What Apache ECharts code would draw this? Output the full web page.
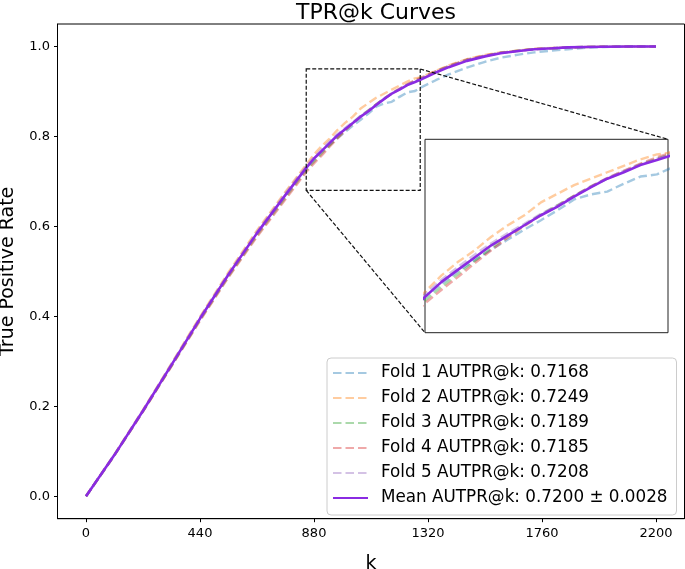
<!DOCTYPE html>
<html>
<head>
<meta charset="utf-8">
<script src="https://cdn.jsdelivr.net/npm/echarts@6.0.0/dist/echarts.min.js"></script>
<style>
html,body{margin:0;padding:0;background:#fff;}
#tpr{width:685px;height:569px;}
</style>
</head>
<body>
<div id="tpr"></div>
<script>
// k grid shared by every curve
var kValues=[0,110,220,330,440,550,660,770,850,880,910,940,970,1000,1030,1060,1090,1120,1150,1180,1210,1240,1270,1290,1350,1400,1470,1540,1600,1670,1730,1800,1860,1930,2000,2100,2200]

var fold1=[0,0.091,0.189,0.291,0.394,0.492,0.584,0.668,0.729,0.748,0.766,0.781,0.796,0.810,0.824,0.837,0.851,0.866,0.873,0.877,0.888,0.898,0.901,0.908,0.925,0.938,0.953,0.966,0.975,0.982,0.987,0.991,0.994,0.997,0.999,1.0,1.0]
var fold2=[0,0.093,0.192,0.295,0.399,0.498,0.591,0.677,0.737,0.760,0.779,0.795,0.814,0.830,0.844,0.862,0.874,0.886,0.895,0.904,0.913,0.922,0.929,0.931,0.946,0.958,0.972,0.981,0.987,0.991,0.995,0.997,0.998,0.999,0.9995,1.0,1.0]
var fold3=[0,0.092,0.189,0.290,0.392,0.489,0.580,0.664,0.725,0.744,0.762,0.780,0.798,0.815,0.830,0.845,0.858,0.871,0.884,0.895,0.905,0.915,0.923,0.928,0.944,0.956,0.970,0.979,0.986,0.991,0.994,0.996,0.998,0.999,0.9995,1.0,1.0]
var fold4=[0,0.091,0.188,0.289,0.390,0.487,0.577,0.660,0.721,0.740,0.758,0.777,0.795,0.813,0.829,0.844,0.857,0.871,0.884,0.896,0.906,0.916,0.925,0.930,0.945,0.957,0.971,0.980,0.986,0.991,0.994,0.996,0.998,0.999,0.9995,1.0,1.0]
var fold5=[0,0.093,0.191,0.294,0.397,0.495,0.588,0.674,0.734,0.754,0.772,0.789,0.805,0.819,0.832,0.846,0.858,0.871,0.884,0.896,0.906,0.915,0.923,0.928,0.944,0.956,0.970,0.979,0.986,0.990,0.994,0.996,0.998,0.999,0.9995,1.0,1.0]
var meanTPR=[0,0.092,0.190,0.292,0.395,0.493,0.585,0.670,0.730,0.751,0.768,0.785,0.802,0.816,0.830,0.844,0.856,0.870,0.883,0.895,0.904,0.914,0.921,0.926,0.942,0.954,0.968,0.978,0.985,0.990,0.994,0.996,0.998,0.999,0.9995,1.0,1.0]

var foldNames=['Fold 1 AUTPR@k: 0.7168','Fold 2 AUTPR@k: 0.7249','Fold 3 AUTPR@k: 0.7189','Fold 4 AUTPR@k: 0.7185','Fold 5 AUTPR@k: 0.7208']
var meanName='Mean AUTPR@k: 0.7200 \u00b1 0.0028'

var xTicks=[0,440,880,1320,1760,2200]
var yTicks=[0,0.2,0.4,0.6,0.8,1.0]
// zoomed region shown in the inset
var zoomK=[850,1290]
var zoomTPR=[0.68,0.95]

var font='DejaVu Sans'
var foldColors=['rgba(31,119,180,0.4)','rgba(255,127,14,0.4)','rgba(44,160,44,0.4)','rgba(214,39,40,0.4)','rgba(148,103,189,0.4)']
var meanColor='#8a2be2'

function pairs(ys){
  return kValues.map(function(k,i){return [k,ys[i]]})
}

var folds=[fold1,fold2,fold3,fold4,fold5]
var series=[]
;[0,1].forEach(function(g){
  folds.forEach(function(f,i){
    series.push({
      name:foldNames[i],type:'line',xAxisIndex:g,yAxisIndex:g,
      data:pairs(f),symbol:'none',color:foldColors[i],
      lineStyle:{color:foldColors[i],width:2.4,type:[8.5,4]},z:2
    })
  })
  series.push({
    name:meanName,type:'line',xAxisIndex:g,yAxisIndex:g,
    data:pairs(meanTPR),symbol:'none',color:meanColor,
    lineStyle:{color:meanColor,width:2.6},z:3
  })
})

var chart=echarts.init(document.getElementById('tpr'),null,{renderer:'canvas'})
var option={
  animation:false,
  backgroundColor:'#fff',
  textStyle:{fontFamily:font},
  title:{
    text:'TPR@k Curves',left:371,top:-3,textAlign:'center',
    textStyle:{fontFamily:font,fontSize:22,fontWeight:'normal',color:'#000'}
  },
  legend:{
    orient:'vertical',left:327,top:358,
    data:foldNames.concat([meanName]),
    itemWidth:35,itemHeight:14,itemGap:7,
    padding:[6,9,8,5],
    itemStyle:{opacity:0},
    backgroundColor:'rgba(255,255,255,0.8)',
    borderColor:'#cccccc',borderWidth:1,borderRadius:4,
    textStyle:{fontFamily:font,fontSize:16.8,color:'#000',lineHeight:18,padding:[0,0,0,8]}
  },
  grid:[
    {left:57.5,right:0.5,top:24,bottom:50.3,show:true,borderColor:'#000',borderWidth:1,outerBoundsMode:'none'},
    {left:425,top:139.3,width:243,height:193.4,show:true,borderColor:'#222',borderWidth:1,backgroundColor:'#fff',outerBoundsMode:'none'}
  ],
  xAxis:[
    {type:'value',gridIndex:0,min:-110,max:2310,
     name:'k',nameLocation:'middle',nameGap:36,
     nameTextStyle:{fontFamily:font,fontSize:19,color:'#000'},
     axisLine:{onZero:false,lineStyle:{color:'#000'}},
     axisTick:{customValues:xTicks,length:3.5,lineStyle:{color:'#000'}},
     axisLabel:{customValues:xTicks,margin:8.5,fontFamily:font,fontSize:13,color:'#000',
       formatter:function(v){return String(v)}},
     splitLine:{show:false}},
    {type:'value',gridIndex:1,min:zoomK[0],max:zoomK[1],show:false,splitLine:{show:false}}
  ],
  yAxis:[
    {type:'value',gridIndex:0,min:-0.05,max:1.05,
     name:'True Positive Rate',nameLocation:'middle',nameGap:40,nameRotate:90,
     nameTextStyle:{fontFamily:font,fontSize:19,color:'#000'},
     axisLine:{onZero:false,lineStyle:{color:'#000'}},
     axisTick:{customValues:yTicks,length:3.5,lineStyle:{color:'#000'}},
     axisLabel:{customValues:yTicks,margin:7.5,fontFamily:font,fontSize:13,color:'#000',
       formatter:function(v){return v.toFixed(1)}},
     splitLine:{show:false}},
    {type:'value',gridIndex:1,min:zoomTPR[0],max:zoomTPR[1],show:false,splitLine:{show:false}}
  ],
  series:series
}
chart.setOption(option)

// zoom box in the main axes and the two connector lines to the inset
var m=function(p){return chart.convertToPixel({xAxisIndex:0,yAxisIndex:0},p)}
var s=function(p){return chart.convertToPixel({xAxisIndex:1,yAxisIndex:1},p)}
var a=m([zoomK[0],zoomTPR[1]]),b=m([zoomK[1],zoomTPR[0]])
var topRightMain=m([zoomK[1],zoomTPR[1]]),botLeftMain=m([zoomK[0],zoomTPR[0]])
var topRightInset=s([zoomK[1],zoomTPR[1]]),botLeftInset=s([zoomK[0],zoomTPR[0]])
var dash={stroke:'#111',lineWidth:1.2,lineDash:[4,2],fill:null}
chart.setOption({
  graphic:[
    {type:'rect',z:10,shape:{x:a[0],y:a[1],width:b[0]-a[0],height:b[1]-a[1]},style:dash},
    {type:'line',z:10,shape:{x1:topRightMain[0],y1:topRightMain[1],x2:topRightInset[0],y2:topRightInset[1]},style:dash},
    {type:'line',z:10,shape:{x1:botLeftMain[0],y1:botLeftMain[1],x2:botLeftInset[0],y2:botLeftInset[1]},style:dash}
  ]
})
window.addEventListener('resize',function(){chart.resize()})
</script>
</body>
</html>
